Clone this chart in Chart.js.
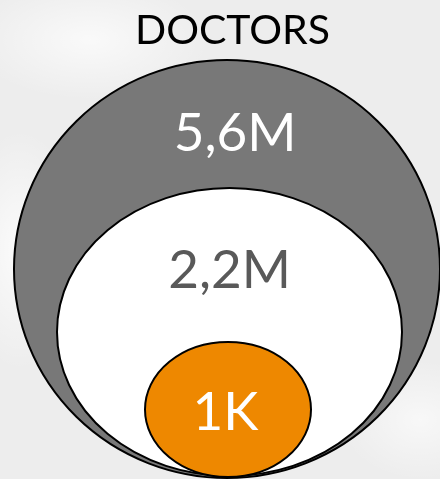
<!DOCTYPE html>
<html lang="en">
<head>
<meta charset="UTF-8">
<title>Doctors</title>
<script src="https://cdn.jsdelivr.net/npm/chart.js@4.4.0/dist/chart.umd.min.js"></script>
<style>
  html, body { margin: 0; padding: 0; }
  body {
    width: 440px; height: 479px; overflow: hidden;
    background:
      radial-gradient(ellipse 60px 120px at 20px 250px, rgba(255,255,255,0.8), rgba(255,255,255,0) 100%),
      radial-gradient(ellipse 120px 60px at 90px 40px, rgba(255,255,255,0.7), rgba(255,255,255,0) 100%),
      radial-gradient(ellipse 80px 60px at 420px 420px, rgba(255,255,255,0.6), rgba(255,255,255,0) 100%),
      #ededed;
  }
  canvas { display: block; }
</style>
</head>
<body>
<canvas id="doctorsChart" width="440" height="479"></canvas>
<script>
// nested groups, outer to inner
const labels = ['5,6M', '2,2M', '1K'];
const centerX = [227, 229.5, 228];
const centerY = [269, 332, 409.5];
const radiusX = [213, 172.5, 83];
const radiusY = [209, 144, 67.5];
const fills = ['#787878', '#ffffff', '#ee8800'];
const textColors = ['#ffffff', '#595959', '#ffffff'];
const labelX = [235, 229.5, 225.5];
const labelY = [151, 288, 430];
const title = 'DOCTORS';

const ellipsePlugin = {
    id: 'ellipses',
    afterDatasetsDraw(chart) {
        const ctx = chart.ctx;
        const xs = chart.scales.x;
        const ys = chart.scales.y;
        const meta = chart.getDatasetMeta(0);
        ctx.save();
        meta.data.forEach((pt, i) => {
            const rx = Math.abs(xs.getPixelForValue(centerX[i] + radiusX[i]) - pt.x);
            const ry = Math.abs(ys.getPixelForValue(centerY[i] + radiusY[i]) - pt.y);
            ctx.beginPath();
            ctx.ellipse(pt.x, pt.y, rx, ry, 0, 0, Math.PI * 2);
            ctx.fillStyle = fills[i];
            ctx.fill();
            ctx.lineWidth = 2;
            ctx.strokeStyle = '#000000';
            ctx.stroke();
        });
        ctx.textAlign = 'center';
        ctx.textBaseline = 'alphabetic';
        ctx.font = '53px Lato';
        labels.forEach((t, i) => {
            ctx.fillStyle = textColors[i];
            ctx.fillText(t, xs.getPixelForValue(labelX[i]), ys.getPixelForValue(labelY[i]));
        });
        ctx.fillStyle = '#000000';
        ctx.font = '41px Lato';
        ctx.fillText(title, xs.getPixelForValue(232.5), ys.getPixelForValue(44));
        ctx.restore();
    }
};

new Chart(document.getElementById('doctorsChart'), {
    type: 'scatter',
    data: {
        labels: labels,
        datasets: [{
            data: centerX.map((x, i) => ({ x: x, y: centerY[i] })),
            pointRadius: 0
        }]
    },
    options: {
        responsive: false,
        animation: false,
        devicePixelRatio: 1,
        layout: { padding: 0 },
        scales: {
            x: { type: 'linear', min: 0, max: 440, display: false },
            y: { type: 'linear', min: 0, max: 479, reverse: true, display: false }
        },
        plugins: {
            legend: { display: false },
            tooltip: { enabled: false },
            title: { display: false }
        }
    },
    plugins: [ellipsePlugin]
});
</script>
</body>
</html>
